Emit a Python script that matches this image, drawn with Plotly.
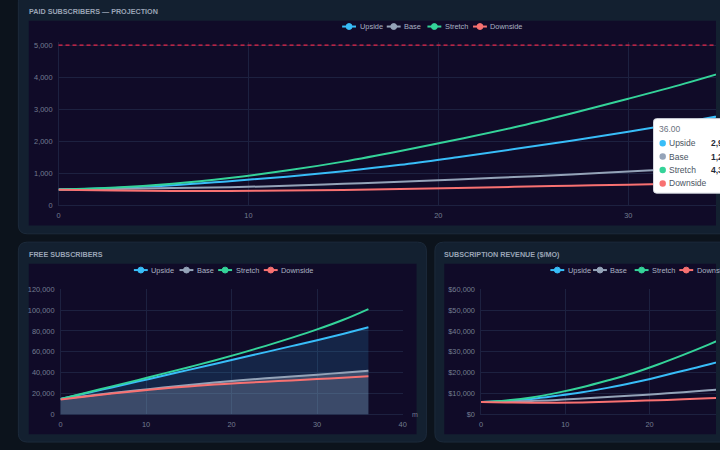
"""
Dashboard abonnés : projection payants, gratuits et revenu (scénarios)
"""

import plotly.graph_objects as go

# ============================================================================
# DONNÉES
# ============================================================================
months = [0, 3, 6, 9, 12, 15, 18, 21, 24, 27, 30, 33, 36]
scenarios = ["Upside", "Base", "Stretch", "Downside"]
colors = {"Upside": "#38bdf8", "Base": "#94a3b8", "Stretch": "#34d399", "Downside": "#f87171"}

paid_upside = [500, 550, 630, 760, 900, 1070, 1270, 1510, 1760, 2020, 2300, 2600, 2920]
paid_base = [500, 520, 545, 570, 620, 680, 740, 810, 890, 970, 1060, 1150, 1250]
paid_stretch = [500, 560, 680, 860, 1090, 1370, 1700, 2060, 2440, 2870, 3330, 3810, 4330]
paid_downside = [490, 468, 455, 455, 468, 488, 515, 548, 585, 618, 650, 688, 728]
paid_target = 5000

free_upside = [15000, 20500, 26000, 31600, 37200, 42800, 48400, 54100, 59800, 65500, 71200, 77200, 83500]
free_base = [15000, 17900, 20600, 23300, 25900, 28400, 30700, 32800, 34700, 36500, 38200, 40100, 42000]
free_stretch = [15000, 21000, 27000, 33000, 39200, 45400, 51800, 58600, 65800, 73400, 81500, 90500, 101000]
free_downside = [14500, 17400, 20100, 22700, 25000, 27000, 28700, 30200, 31500, 32700, 34000, 35300, 36600]

rev_upside = [6000, 6500, 7500, 9000, 10700, 12800, 15200, 18000, 21000, 24000, 27300, 31000, 34800]
rev_base = [6000, 6200, 6550, 7000, 7700, 8400, 9100, 9900, 10700, 11600, 12600, 13700, 14800]
rev_stretch = [6000, 6800, 8200, 10400, 13100, 16300, 19800, 24000, 28600, 33500, 38800, 44600, 51000]
rev_downside = [6000, 5800, 5650, 5700, 5850, 6100, 6500, 6900, 7300, 7800, 8200, 8700, 9200]

paid = dict(zip(scenarios, [paid_upside, paid_base, paid_stretch, paid_downside]))
free = dict(zip(scenarios, [free_upside, free_base, free_stretch, free_downside]))
revenue = dict(zip(scenarios, [rev_upside, rev_base, rev_stretch, rev_downside]))

# ============================================================================
# STYLE / MISE EN PAGE (pixels -> coordonnées papier)
# ============================================================================
W, H = 720, 450
FONT = "Liberation Sans, Arial, sans-serif"
BG = "#0c131c"
CARD = "#132030"
CARD_LINE = "#1c2a3b"
CANVAS = "#100b28"
GRID = "#1d2140"
TICK = "#737d91"
LEGEND_TXT = "#aab2c2"
TITLE_TXT = "#9aa4b6"


def fx(p):
    return p / W


def fy(p):
    return 1 - p / H


def rrect(x0, y0, x1, y1, r):
    X0, X1, Y0, Y1 = fx(x0), fx(x1), fy(y0), fy(y1)
    rx, ry = r / W, r / H
    return (f"M{X0 + rx},{Y0} L{X1 - rx},{Y0} Q{X1},{Y0} {X1},{Y0 - ry} "
            f"L{X1},{Y1 + ry} Q{X1},{Y1} {X1 - rx},{Y1} L{X0 + rx},{Y1} "
            f"Q{X0},{Y1} {X0},{Y1 + ry} L{X0},{Y0 - ry} Q{X0},{Y0} {X0 + rx},{Y0} Z")


def label(text, x, y, size, color, anchor="left"):
    # les annotations plotly ajoutent ~2px de marge autour du texte
    return dict(text=text, x=fx(x - 2 if anchor == "left" else x), y=fy(y), xref="paper", yref="paper",
                xanchor=anchor, yanchor="middle", showarrow=False,
                font=dict(family=FONT, size=size, color=color))


shapes = []
annotations = []

# cartes + zones canvas
for (x0, y0, x1, y1) in [(16.5, -12, 745, 234.5), (16.5, 243, 428, 447), (436.5, 243, 745, 447)]:
    shapes.append(dict(type="path", path=rrect(x0, y0, x1, y1, 9), xref="paper", yref="paper",
                       fillcolor=CARD, line=dict(color=CARD_LINE, width=1), layer="below"))
for (x0, y0, x1, y1) in [(27, 17, 720, 226), (27, 265, 418, 439), (446, 265, 720, 439)]:
    shapes.append(dict(type="rect", x0=fx(x0), x1=fx(x1), y0=fy(y1), y1=fy(y0), xref="paper", yref="paper",
                       fillcolor=CANVAS, line=dict(width=0), layer="below"))

# titres des cartes
for txt, x, y in [("PAID SUBSCRIBERS — PROJECTION", 27, 8),
                  ("FREE SUBSCRIBERS", 27, 256),
                  ("SUBSCRIPTION REVENUE ($/MO)", 446, 256)]:
    annotations.append(label(f"<b>{txt}</b>", x, y, 7.2, TITLE_TXT))

# légendes (style Chart.js : trait + point)
legend_rows = [(23, [350, 395, 436, 482]), (271.5, [140, 186, 225, 271]), (271.5, [560, 603, 645, 690])]
for y, centers in legend_rows:
    for name, c in zip(scenarios, centers):
        col = colors[name]
        shapes.append(dict(type="line", x0=fx(c - 7), x1=fx(c + 7), y0=fy(y), y1=fy(y),
                           xref="paper", yref="paper", line=dict(color=col, width=2)))
        shapes.append(dict(type="circle", x0=fx(c - 3), x1=fx(c + 3), y0=fy(y + 3), y1=fy(y - 3),
                           xref="paper", yref="paper", fillcolor=col, line=dict(color=col, width=1)))
        annotations.append(label(name, c + 10.5, y, 7.4, LEGEND_TXT))

# ligne objectif
shapes.append(dict(type="line", xref="x domain", yref="y", x0=0, x1=1, y0=paid_target, y1=paid_target,
                   line=dict(color="#e8284a", width=1.2, dash="4px,3px")))

# unité de l'axe x (graphique gratuit)
annotations.append(label("m", 413, 419, 7, TICK))

# ============================================================================
# FIGURE
# ============================================================================
fig = go.Figure()

for name in scenarios:
    fig.add_trace(go.Scatter(x=months, y=paid[name], mode="lines", name=name,
                             line=dict(color=colors[name], width=2, shape="spline", smoothing=1.0),
                             xaxis="x", yaxis="y", showlegend=False, hoverinfo="skip"))

fills = {"Upside": "rgba(56,189,248,0.15)", "Base": "rgba(148,163,184,0.30)"}
for name in scenarios:
    fig.add_trace(go.Scatter(x=months, y=free[name], mode="lines", name=name,
                             line=dict(color=colors[name], width=2, shape="spline", smoothing=1.0),
                             fill="tozeroy" if name in fills else None,
                             fillcolor=fills.get(name),
                             xaxis="x2", yaxis="y2", showlegend=False, hoverinfo="skip"))

for name in scenarios:
    fig.add_trace(go.Scatter(x=months, y=revenue[name], mode="lines", name=name,
                             line=dict(color=colors[name], width=2, shape="spline", smoothing=1.0),
                             xaxis="x3", yaxis="y3", showlegend=False, hoverinfo="skip"))

# infobulle figée au mois 36
shapes.append(dict(type="path", path=rrect(657, 117, 760, 193, 3), xref="paper", yref="paper",
                   fillcolor="#ffffff", line=dict(color="#d7dbe2", width=1)))
annotations.append(label(f"{months[-1]:.2f}", 663, 128, 8.5, "#6b7280"))
for i, name in enumerate(scenarios):
    ty = 142 + i * 13.7
    col = colors[name]
    shapes.append(dict(type="circle", x0=fx(663), x1=fx(669.5), y0=fy(ty + 3.3), y1=fy(ty - 3.3),
                       xref="paper", yref="paper", fillcolor=col, line=dict(color=col, width=0)))
    annotations.append(label(name, 672.5, ty, 8.5, "#4b5563"))
    annotations.append(label(f"<b>{paid[name][-1]:,}</b>", 715 if name != "Downside" else 735,
                             ty, 8.5, "#1f2937"))

axis_style = dict(showgrid=True, gridcolor=GRID, gridwidth=1, zeroline=True, zerolinecolor=GRID,
                  zerolinewidth=1, showline=False, ticks="", tickfont=dict(family=FONT, size=7.4, color=TICK),
                  fixedrange=True)

# 32.74 px pour 1 000 abonnés payants : la plage va un peu au-delà de l'objectif
fig.update_layout(
    width=W, height=H,
    margin=dict(l=0, r=0, t=0, b=0),
    paper_bgcolor=BG,
    plot_bgcolor=CANVAS,
    showlegend=False,
    shapes=shapes,
    annotations=annotations,
    xaxis=dict(domain=[fx(57), 1], range=[0, (720 - 57) / 19.15], tickvals=[0, 10, 20, 30],
               anchor="y", ticklabelstandoff=4, **axis_style),
    yaxis=dict(domain=[fy(205.7), fy(205.7 - 5.1 * 32.74)], range=[0, 5100], tickvals=[0, 1000, 2000, 3000, 4000, 5000],
               tickformat=",", anchor="x", ticklabelstandoff=5, **axis_style),
    xaxis2=dict(domain=[fx(59), fx(404)], range=[0, 40], dtick=10, anchor="y2",
                ticklabelstandoff=4, **axis_style),
    yaxis2=dict(domain=[fy(419), fy(291)], range=[0, 120000], dtick=20000, tickformat=",",
                anchor="x2", ticklabelstandoff=5, **axis_style),
    xaxis3=dict(domain=[fx(483), 1], range=[0, (720 - 483) / 8.5], dtick=10, anchor="y3",
                ticklabelstandoff=4, **axis_style),
    yaxis3=dict(domain=[fy(419), fy(291)], range=[0, 60000], dtick=10000, tickformat=",",
                tickprefix="$", anchor="x3", ticklabelstandoff=5, **axis_style),
)

fig.write_html("out.html", config={"displayModeBar": False},
               post_script="document.body.style.margin='0';")
print("out.html écrit")
